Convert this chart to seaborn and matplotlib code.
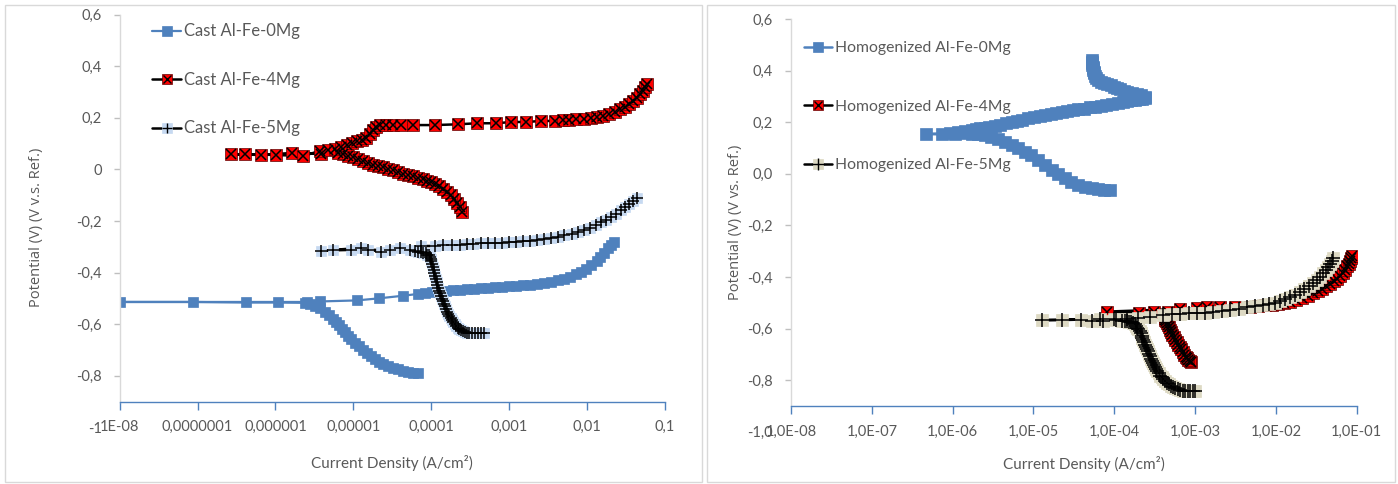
import numpy as np
import matplotlib
matplotlib.use("Agg")
import matplotlib.pyplot as plt
import seaborn as sns
from matplotlib.lines import Line2D
from matplotlib.patches import Rectangle
from matplotlib.ticker import NullLocator

sns.set_style("white")
plt.rcParams["font.family"] = ["Lato", "DejaVu Sans"]

# ---------------- data (log10 of current density in A/cm2, potential in V) -------------
# Cast Al-Fe-0Mg
cast0_logi = [-4.174, -4.238, -4.303, -4.367, -4.431, -4.495, -4.559, -4.623, -4.674, -4.726,
              -4.777, -4.828, -4.879, -4.931, -4.982, -5.033, -5.072, -5.110, -5.149, -5.187,
              -5.226, -5.264, -5.315, -5.367, -5.431, -5.495, -5.559, -5.623,
              -5.969, -6.379, -7.059, -8.0,
              -5.597, -5.431, -4.956, -4.674, -4.367, -4.174,
              -4.085, -3.995, -3.905, -3.815, -3.726, -3.636, -3.546, -3.456, -3.367, -3.277,
              -3.187, -3.097, -3.008, -2.918, -2.828, -2.738, -2.649, -2.559, -2.469, -2.379,
              -2.290, -2.213, -2.136, -2.072, -2.008, -1.944, -1.879, -1.828, -1.777, -1.726,
              -1.687, -1.649]
cast0_v = [-0.791, -0.789, -0.785, -0.781, -0.775, -0.769, -0.764, -0.756, -0.746, -0.736,
           -0.725, -0.713, -0.700, -0.686, -0.672, -0.659, -0.645, -0.632, -0.618, -0.605,
           -0.591, -0.579, -0.566, -0.552, -0.539, -0.529, -0.521, -0.517,
           -0.516, -0.516, -0.514, -0.514,
           -0.514, -0.512, -0.508, -0.500, -0.490, -0.483,
           -0.479, -0.475, -0.473, -0.471, -0.469, -0.467, -0.465, -0.463, -0.461, -0.459,
           -0.457, -0.455, -0.453, -0.452, -0.450, -0.448, -0.444, -0.440, -0.436, -0.430,
           -0.424, -0.417, -0.407, -0.397, -0.386, -0.372, -0.357, -0.341, -0.324, -0.306,
           -0.293, -0.281]

# Cast Al-Fe-4Mg
cast4_logi = [-3.610, -3.636, -3.668, -3.706, -3.751, -3.803, -3.854, -3.905, -3.956, -4.008,
              -4.059, -4.110, -4.174, -4.238, -4.303, -4.367, -4.431, -4.495, -4.559, -4.623,
              -4.687, -4.751, -4.815, -4.879, -4.944, -5.008, -5.072, -5.136, -5.200,
              -5.413, -5.785, -6.185, -6.568, -6.386, -5.996, -5.641,
              -5.431, -5.328, -5.238, -5.162, -5.085, -5.021, -4.956, -4.892, -4.835, -4.790,
              -4.751, -4.713, -4.662, -4.585, -4.495, -4.383, -4.235, -3.956, -3.658, -3.414,
              -3.165, -2.973, -2.781, -2.588, -2.418, -2.315, -2.226, -2.136, -2.046, -1.956,
              -1.867, -1.790, -1.713, -1.636, -1.572, -1.508, -1.456, -1.405, -1.354, -1.315,
              -1.277, -1.251, -1.226]
cast4_v = [-0.165, -0.145, -0.130, -0.114, -0.099, -0.087, -0.076, -0.066, -0.058, -0.050,
           -0.045, -0.039, -0.033, -0.027, -0.021, -0.016, -0.010, -0.004, 0.002, 0.008,
           0.014, 0.019, 0.025, 0.033, 0.041, 0.047, 0.052, 0.058, 0.064,
           0.060, 0.064, 0.056, 0.059, 0.059, 0.056, 0.052,
           0.072, 0.076, 0.081, 0.087, 0.095, 0.103, 0.110, 0.116, 0.122, 0.138,
           0.153, 0.165, 0.171, 0.172, 0.171, 0.171, 0.172, 0.172, 0.175, 0.179,
           0.179, 0.184, 0.184, 0.188, 0.188, 0.192, 0.193, 0.194, 0.196, 0.199,
           0.203, 0.208, 0.215, 0.223, 0.233, 0.242, 0.252, 0.264, 0.277, 0.291,
           0.304, 0.318, 0.331]

# Cast Al-Fe-5Mg
cast5_logi = [-3.328, -3.366, -3.405, -3.443, -3.482, -3.514, -3.546, -3.571, -3.597, -3.620,
              -3.642, -3.662, -3.681, -3.700, -3.719, -3.735, -3.751, -3.767, -3.783, -3.799,
              -3.815, -3.828, -3.841, -3.854, -3.867, -3.880, -3.892, -3.902, -3.912, -3.921,
              -3.931, -3.940, -3.950, -3.960, -3.969, -3.978, -3.988, -3.998, -4.008, -4.020,
              -4.033, -4.052, -4.072, -4.104, -4.136, -4.175, -4.213,
              -4.405, -4.640, -4.896, -5.260, -5.409,
              -5.024, -4.812, -4.533, -4.277,
              -4.127, -3.956, -3.850, -3.738, -3.636, -3.546, -3.465, -3.358, -3.277, -3.187,
              -3.097, -3.008, -2.918, -2.828, -2.738, -2.649, -2.559, -2.469, -2.379, -2.290,
              -2.200, -2.123, -2.046, -1.969, -1.892, -1.815, -1.751, -1.687, -1.623, -1.559,
              -1.508, -1.456, -1.405, -1.354]
cast5_v = [-0.634, -0.635, -0.636, -0.636, -0.636, -0.635, -0.634, -0.631, -0.628, -0.623,
           -0.618, -0.613, -0.607, -0.599, -0.591, -0.585, -0.578, -0.569, -0.560, -0.551,
           -0.541, -0.531, -0.521, -0.512, -0.502, -0.492, -0.481, -0.470, -0.459, -0.448,
           -0.436, -0.425, -0.413, -0.402, -0.390, -0.378, -0.366, -0.357, -0.347, -0.340,
           -0.333, -0.330, -0.326, -0.324, -0.322, -0.320, -0.318,
           -0.304, -0.320, -0.304, -0.312, -0.315,
           -0.312, -0.312, -0.312, -0.312,
           -0.297, -0.297, -0.294, -0.293, -0.293, -0.291, -0.289, -0.286, -0.286, -0.286,
           -0.285, -0.283, -0.281, -0.279, -0.277, -0.273, -0.269, -0.266, -0.262, -0.256,
           -0.250, -0.242, -0.235, -0.227, -0.217, -0.205, -0.196, -0.184, -0.171, -0.157,
           -0.145, -0.134, -0.122, -0.110]

# Homogenized Al-Fe-0Mg
hom0_logi = [-4.057, -4.126, -4.200, -4.277, -4.361, -4.443, -4.535, -4.609, -4.696, -4.773,
             -4.856, -4.938, -5.030, -5.104, -5.191, -5.269, -5.351, -5.434, -5.525, -5.599,
             -5.686, -5.765, -5.847, -5.970, -6.131, -6.329,
             -6.032, -5.933, -5.847, -5.765, -5.710, -5.661, -5.599, -5.545, -5.475, -5.413,
             -5.339, -5.269, -5.203, -5.141, -5.067, -4.994, -4.925, -4.856, -4.787, -4.718,
             -4.651, -4.584, -4.514, -4.443, -4.374, -4.300, -4.234, -4.167, -4.098, -4.027,
             -3.959, -3.891, -3.842, -3.792, -3.745, -3.698, -3.656, -3.616,
             -3.619, -3.668, -3.718, -3.780, -3.837, -3.882, -3.928, -3.965, -4.002, -4.046,
             -4.089, -4.129, -4.167, -4.197, -4.225, -4.240, -4.250, -4.256, -4.262, -4.265,
             -4.266, -4.271, -4.275, -4.276, -4.277]
hom0_v = [-0.063, -0.062, -0.059, -0.056, -0.051, -0.043, -0.030, -0.017, -0.001, 0.015,
          0.034, 0.053, 0.071, 0.086, 0.100, 0.112, 0.123, 0.134, 0.143, 0.150,
          0.154, 0.156, 0.157, 0.156, 0.153, 0.154,
          0.158, 0.161, 0.164, 0.170, 0.173, 0.176, 0.179, 0.183, 0.187, 0.191,
          0.197, 0.202, 0.206, 0.210, 0.215, 0.219, 0.223, 0.227, 0.231, 0.234,
          0.238, 0.242, 0.246, 0.250, 0.253, 0.257, 0.260, 0.263, 0.267, 0.271,
          0.275, 0.279, 0.282, 0.285, 0.287, 0.289, 0.291, 0.293,
          0.299, 0.304, 0.309, 0.314, 0.318, 0.322, 0.327, 0.332, 0.338, 0.343,
          0.348, 0.353, 0.357, 0.364, 0.370, 0.380, 0.390, 0.396, 0.402, 0.409,
          0.415, 0.422, 0.429, 0.435, 0.441]

# Homogenized Al-Fe-4Mg
hom4_logi = [-3.050, -3.067, -3.083, -3.101, -3.118, -3.137, -3.155, -3.174, -3.192, -3.211,
             -3.229, -3.248, -3.266, -3.282, -3.297, -3.313, -3.328, -3.341, -3.353, -3.362,
             -3.371, -3.371, -3.371,
             -3.340, -3.507, -3.698, -4.084,
             -3.186, -2.975, -2.851, -2.691, -2.505, -2.319, -2.220, -2.134, -2.047, -1.973,
             -1.899, -1.824, -1.750, -1.676, -1.608, -1.540, -1.478, -1.428, -1.379, -1.329,
             -1.286, -1.243, -1.205, -1.168, -1.144, -1.119, -1.098, -1.082, -1.069, -1.057]
hom4_v = [-0.728, -0.724, -0.720, -0.715, -0.710, -0.701, -0.691, -0.681, -0.671, -0.662,
          -0.652, -0.643, -0.633, -0.623, -0.613, -0.604, -0.594, -0.586, -0.578, -0.572,
          -0.565, -0.558, -0.551,
          -0.534, -0.534, -0.541, -0.534,
          -0.524, -0.520, -0.518, -0.518, -0.518, -0.516, -0.514, -0.510, -0.508, -0.505,
          -0.501, -0.495, -0.489, -0.481, -0.473, -0.462, -0.454, -0.445, -0.436, -0.427,
          -0.417, -0.408, -0.396, -0.385, -0.371, -0.357, -0.348, -0.338, -0.328, -0.319]

# Homogenized Al-Fe-5Mg
hom5_logi = [-3.000, -3.031, -3.062, -3.093, -3.124, -3.155, -3.186, -3.217, -3.248, -3.276,
             -3.303, -3.328, -3.353, -3.375, -3.396, -3.415, -3.433, -3.452, -3.470, -3.486,
             -3.501, -3.514, -3.526, -3.539, -3.551, -3.563, -3.575, -3.586, -3.596, -3.608,
             -3.619, -3.630, -3.640, -3.651, -3.662, -3.675, -3.687, -3.701, -3.714, -3.731,
             -3.748, -3.770, -3.792, -3.817, -3.842, -3.873, -3.903,
             -3.978, -4.139, -4.275, -4.411, -4.646, -4.894,
             -4.176, -4.002, -3.842, -3.705, -3.557, -3.396, -3.285, -3.186, -3.080, -2.975,
             -2.876, -2.777, -2.672, -2.567, -2.462, -2.356, -2.257, -2.158, -2.084, -2.010,
             -1.948, -1.886, -1.824, -1.762, -1.707, -1.651, -1.595, -1.540, -1.496, -1.453,
             -1.416, -1.379, -1.354, -1.329, -1.311, -1.292]
hom5_v = [-0.842, -0.842, -0.842, -0.842, -0.841, -0.840, -0.838, -0.834, -0.830, -0.826,
          -0.821, -0.815, -0.809, -0.802, -0.795, -0.789, -0.782, -0.774, -0.766, -0.758,
          -0.749, -0.741, -0.733, -0.725, -0.716, -0.707, -0.697, -0.688, -0.679, -0.671,
          -0.662, -0.653, -0.644, -0.636, -0.627, -0.618, -0.609, -0.603, -0.596, -0.590,
          -0.584, -0.580, -0.576, -0.574, -0.571, -0.570, -0.569,
          -0.567, -0.571, -0.571, -0.565, -0.567, -0.567,
          -0.563, -0.563, -0.563, -0.559, -0.555, -0.547, -0.545, -0.543, -0.541, -0.540,
          -0.538, -0.536, -0.532, -0.528, -0.523, -0.518, -0.514, -0.509, -0.504, -0.499,
          -0.492, -0.485, -0.477, -0.468, -0.458, -0.447, -0.435, -0.423, -0.412, -0.400,
          -0.386, -0.373, -0.361, -0.350, -0.338, -0.326]

left_labels = ["Cast Al-Fe-0Mg", "Cast Al-Fe-4Mg", "Cast Al-Fe-5Mg"]
right_labels = ["Homogenized Al-Fe-0Mg", "Homogenized Al-Fe-4Mg", "Homogenized Al-Fe-5Mg"]
x_ticks = [1e-8, 1e-7, 1e-6, 1e-5, 1e-4, 1e-3, 1e-2, 1e-1]
left_xticklabels = ["1E-08", "0,0000001", "0,000001", "0,00001", "0,0001", "0,001", "0,01", "0,1"]
right_xticklabels = ["1,0E-08", "1,0E-07", "1,0E-06", "1,0E-05", "1,0E-04", "1,0E-03", "1,0E-02", "1,0E-01"]
y_ticks = [-1.0, -0.8, -0.6, -0.4, -0.2, 0.0, 0.2, 0.4, 0.6]
left_yticklabels = ["-1", "-0,8", "-0,6", "-0,4", "-0,2", "0", "0,2", "0,4", "0,6"]
right_yticklabels = ["-1,0", "-0,8", "-0,6", "-0,4", "-0,2", "0,0", "0,2", "0,4", "0,6"]

# ---------------- styles ----------------
BLUE = "#4F81BD"
LIGHTBLUE = "#C6D9F1"
TAN = "#DDD9C3"
RED = "#FF0000"
TXT = "#595959"

style0 = dict(line=BLUE, lw=1.6, ms=7.4, mfc=BLUE, mec=BLUE, over=None)
style4 = dict(line="black", lw=1.8, ms=8.0, mfc=RED, mec="#600000", over="x")
style5c = dict(line="black", lw=1.8, ms=7.8, mfc=LIGHTBLUE, mec=LIGHTBLUE, over="+")
style5h = dict(line="black", lw=1.8, ms=8.6, mfc=TAN, mec=TAN, over="+")
style0h = dict(line=BLUE, lw=1.8, ms=8.2, mfc=BLUE, mec=BLUE, over=None)


def draw(ax, logi, v, st):
    x = 10.0 ** np.asarray(logi)
    y = np.asarray(v)
    sns.lineplot(x=x, y=y, ax=ax, sort=False, estimator=None, color=st["line"],
                 linewidth=st["lw"], marker="s", markersize=st["ms"],
                 markerfacecolor=st["mfc"], markeredgecolor=st["mec"],
                 markeredgewidth=0.5, legend=False)
    if st["over"] is not None:
        size = st["ms"] * (0.85 if st["over"] == "x" else 1.1)
        sns.lineplot(x=x, y=y, ax=ax, sort=False, estimator=None, color="black",
                     linestyle="", marker=st["over"], markersize=size,
                     markeredgecolor="black", markeredgewidth=1.1, legend=False)


def handle(st):
    base = Line2D([], [], color=st["line"], lw=st["lw"], marker="s", markersize=st["ms"] * 0.9,
                  markerfacecolor=st["mfc"], markeredgecolor=st["mec"], markeredgewidth=0.5)
    if st["over"] is None:
        return base
    size = st["ms"] * 0.9 * (0.85 if st["over"] == "x" else 1.1)
    top = Line2D([], [], linestyle="", marker=st["over"], markersize=size,
                 markeredgecolor="black", markeredgewidth=1.0, color="black")
    return (base, top)


W, H = 1398, 484
fig = plt.figure(figsize=(W / 100, H / 100), dpi=100)
fig.patch.set_facecolor("white")

# panel borders
fig.add_artist(Rectangle((5 / W, 1 - 482 / H), 697 / W, 477 / H, transform=fig.transFigure,
                         fill=False, edgecolor="#D9D9D9", lw=1.0))
fig.add_artist(Rectangle((707 / W, 1 - 482 / H), 688 / W, 477 / H, transform=fig.transFigure,
                         fill=False, edgecolor="#D9D9D9", lw=1.0))

axL = fig.add_axes([119.6 / W, 1 - 427.3 / H, 545.4 / W, 412.6 / H])
axR = fig.add_axes([791 / W, 1 - 431.8 / H, 565.7 / W, 412.8 / H])

for ax in (axL, axR):
    ax.set_facecolor("none")
    ax.set_xscale("log")
    ax.set_xlim(1e-8, 1e-1)
    ax.set_ylim(-1.0, 0.6)

draw(axL, cast0_logi, cast0_v, style0)
draw(axL, cast4_logi, cast4_v, style4)
draw(axL, cast5_logi, cast5_v, style5c)
draw(axR, hom0_logi, hom0_v, style0h)
draw(axR, hom4_logi, hom4_v, style4)
draw(axR, hom5_logi, hom5_v, style5h)

for ax, xl, yl in ((axL, left_xticklabels, left_yticklabels), (axR, right_xticklabels, right_yticklabels)):
    ax.set_xlim(1e-8, 1e-1)
    ax.set_ylim(-1.0, 0.6)
    ax.set_xticks(x_ticks)
    ax.set_xticklabels(xl)
    ax.xaxis.set_minor_locator(NullLocator())
    ax.set_yticks(y_ticks)
    ax.set_yticklabels(yl)
    for s in ("top", "right"):
        ax.spines[s].set_visible(False)
    ax.spines["bottom"].set_position(("data", -0.9))
    ax.spines["bottom"].set_color(BLUE)
    ax.spines["bottom"].set_linewidth(1.0)
    ax.spines["left"].set_bounds(-0.9, 0.6)
    ax.spines["left"].set_color("#D9D9D9")
    ax.spines["left"].set_linewidth(1.0)
    ax.tick_params(axis="x", which="major", bottom=True, direction="out", length=5.5, width=1.0,
                   color=BLUE, pad=8, labelsize=10.5, labelcolor=TXT)
    ax.tick_params(axis="y", which="major", left=True, direction="out", length=4, width=1.0,
                   color="#BFBFBF", pad=9, labelsize=10.5, labelcolor=TXT)
    ax.yaxis.get_major_ticks()[0].tick1line.set_visible(False)
    ax.set_xlabel("Current Density (A/cm²)", fontsize=11, color=TXT)
    ax.grid(False)

axL.set_ylabel("Potential (V) (V v.s. Ref.)", fontsize=10.5, color=TXT,
               family=["Open Sans", "DejaVu Sans"])
axR.set_ylabel("Potential (V) (V vs. Ref.)", fontsize=10.5, color=TXT,
               family=["Open Sans", "DejaVu Sans"])
for ax, xc, yc, xlc, ylc in ((axL, -0.152, 0.4855, 0.4995, -0.0865),
                             (axR, -0.098, 0.507, 0.518, -0.078)):
    ax.yaxis.label.set_va("center")
    ax.yaxis.label.set_ha("center")
    ax.yaxis.set_label_coords(xc, yc)
    ax.xaxis.label.set_va("center")
    ax.xaxis.set_label_coords(xlc, ylc)

legL = axL.legend([handle(style0), handle(style4), handle(style5c)], left_labels,
                  loc="upper left", bbox_to_anchor=(0.0594, 0.979), borderpad=0,
                  borderaxespad=0, frameon=False, handlelength=1.75, handletextpad=0.15,
                  labelspacing=1.95, fontsize=12, labelcolor=TXT)
legR = axR.legend([handle(style0h), handle(style4), handle(style5h)], right_labels,
                  loc="upper left", bbox_to_anchor=(0.023, 0.946), borderpad=0,
                  borderaxespad=0, frameon=False, handlelength=1.8, handletextpad=0.15,
                  labelspacing=2.83, fontsize=11.3, labelcolor=TXT)

fig.savefig("out.png", dpi=100, facecolor="white")
